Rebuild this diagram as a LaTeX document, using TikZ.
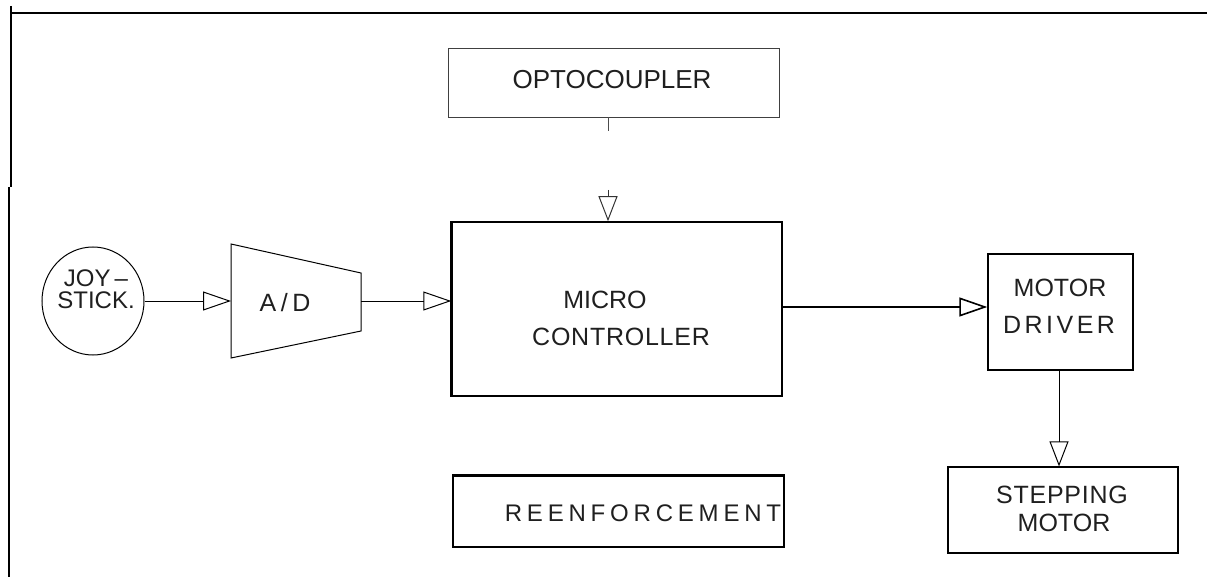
\documentclass[tikz,border=0pt]{standalone}
\usepackage{fontspec}
\setmainfont{Liberation Sans}
\usetikzlibrary{arrows.meta,shapes.geometric}

\begin{document}
\begin{tikzpicture}[x=1pt,y=-1pt,
  box/.style={draw, line width=1.2pt, inner sep=0pt},
  lbl/.style={inner sep=0pt, text=black!88, font=\fontsize{25}{29}\selectfont},
  wire/.style={line width=1pt},
  arr/.style={wire, -{Triangle[open, length=28pt, width=19pt]}},
  varr/.style={wire, -{Triangle[open, length=25pt, width=19pt]}},
  frame/.style={line width=2.2pt}
]
\useasboundingbox (0,0) rectangle (1207,577);

% sheet border
\draw[frame] (11,13) -- (1207,13);
\draw[frame] (11,6) -- (11,187);
\draw[frame] (9,187) -- (9,577);

% blocks
\node[box, draw=black!75, line width=0.9pt, minimum width=331pt, minimum height=69pt] (opto) at (613.5,82.5) {};
\node[lbl, font=\fontsize{26}{30}\selectfont] (optotxt) at (612,80) {OPTOCOUPLER};

\node[box, line width=1.5pt, minimum width=330pt, minimum height=174pt] (mc) at (617,309) {};
\draw[line width=2.2pt] (mc.north west) -- (mc.south west);
\node[lbl] (mctxt1) at (605,300) {MICRO};
\node[lbl] (mctxt2) at (621,337) {\addfontfeatures{LetterSpace=3}CONTROLLER};

\node[draw, ellipse, line width=1pt, minimum width=102pt, minimum height=108pt, inner sep=0pt] (joy) at (93,301) {};
\node[lbl, align=center, font=\fontsize{24}{22}\selectfont] (joytxt) at (96,289) {JOY\,--\\STICK.};

% converter drawn as a trapezium
\draw[line width=1pt] (231,244) -- (361,273) -- (361,331) -- (231,358) -- cycle;
\coordinate (adin) at (231,301);
\coordinate (adout) at (361,301);
\node[lbl] (adtxt) at (285,303) {\addfontfeatures{LetterSpace=18}A/D};

\node[box, line width=1.5pt, minimum width=145pt, minimum height=116pt] (md) at (1060.5,312) {};
\node[lbl] (mdtxt1) at (1060,288) {MOTOR};
\node[lbl] (mdtxt2) at (1059,325) {\addfontfeatures{LetterSpace=14}DRIVER};

\node[box, minimum width=230pt, minimum height=86pt] (sm) at (1063,510) {};
\node[lbl] (smtxt1) at (1062,495) {\addfontfeatures{LetterSpace=3}STEPPING};
\node[lbl] (smtxt2) at (1064,523) {MOTOR};

\node[box, minimum width=331pt, minimum height=71pt] (re) at (618.5,511.5) {};
\draw[line width=2pt] (re.north west) -- (re.north east);
\node[lbl, font=\fontsize{24}{28}\selectfont] (retxt) at (643,513) {\addfontfeatures{LetterSpace=20}REENFORCEMENT};

% signal paths
\draw[arr] (joy.east |- adin) -- (adin);
\draw[arr] (adout) -- (mc.west |- adout);
\draw[arr, line width=1.6pt] (mc.east |- 0,307) -- (md.west |- 0,307);
\draw[varr] (md.south -| 1059,0) -- (sm.north -| 1059,0);

\coordinate (optostub) at (608,131);
\coordinate (optoin) at (608,190);
\draw[wire, draw=black!70] (opto.south -| optostub) -- (optostub);
\draw[varr, draw=black!80] (optoin) -- (mc.north -| optoin);
\end{tikzpicture}
\end{document}
